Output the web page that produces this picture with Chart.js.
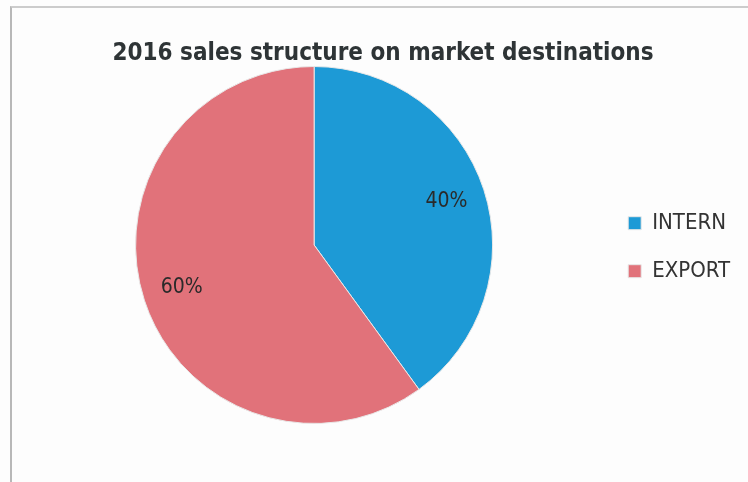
<!DOCTYPE html>
<html>
<head>
<meta charset="utf-8">
<script src="https://cdn.jsdelivr.net/npm/chart.js@4/dist/chart.umd.min.js"></script>
<style>
  html, body { margin: 0; padding: 0; background: #fdfdfd; overflow: hidden; }
  .frame { position: absolute; left: 10px; top: 6px; width: 738px; height: 476px;
           border-left: 2px solid #b8b8b8; border-top: 2px solid #cccccc; }
  .wrap { position: absolute; left: 0; top: 0; width: 748px; height: 482px; }
</style>
</head>
<body>
<div class="frame"></div>
<div class="wrap"><canvas id="myChart"></canvas></div>
<script>
const titleText = '2016 sales structure on market destinations';
const destinations = ['INTERN', 'EXPORT'];
const shares = [40, 60];
const sliceColors = ['#1d9ad6', '#e1727a'];

const fontFam = '"Liberation Sans Narrow", "DejaVu Sans Condensed", sans-serif';

// draws "40%" / "60%" inside the slices
const pctLabels = {
  id: 'pctLabels',
  afterDatasetsDraw(chart) {
    const ctx = chart.ctx;
    const meta = chart.getDatasetMeta(0);
    ctx.save();
    ctx.font = '21px ' + fontFam;
    ctx.fillStyle = '#2a2a2a';
    ctx.textAlign = 'center';
    ctx.textBaseline = 'middle';
    meta.data.forEach((arc, i) => {
      const p = arc.getProps(['x', 'y', 'startAngle', 'endAngle', 'outerRadius'], true);
      const mid = (p.startAngle + p.endAngle) / 2;
      const r = p.outerRadius * 0.78;
      ctx.fillText(shares[i] + '%', p.x + Math.cos(mid) * r, p.y + Math.sin(mid) * r);
    });
    ctx.restore();
  }
};

const ctx = document.getElementById('myChart').getContext('2d');
const myChart = new Chart(ctx, {
  type: 'pie',
  data: {
    labels: destinations,
    datasets: [{
      data: shares,
      backgroundColor: sliceColors,
      borderColor: '#e8e8e8',
      borderWidth: 1
    }]
  },
  options: {
    responsive: true,
    maintainAspectRatio: false,
    animation: false,
    layout: { padding: { left: 26, right: 8, top: 0, bottom: 58 } },
    plugins: {
      tooltip: { enabled: false },
      title: {
        display: true,
        text: titleText,
        color: '#2e3436',
        font: { family: fontFam, size: 24, weight: 'bold', lineHeight: 1 },
        padding: { top: 42, bottom: 0 }
      },
      legend: {
        position: 'right',
        title: { display: true, text: ' ', font: { size: 12 }, padding: { top: 28, bottom: 28 } },
        labels: {
          color: '#333',
          font: { family: fontFam, size: 22 },
          boxWidth: 13,
          boxHeight: 13,
          padding: 26
        }
      }
    }
  },
  plugins: [pctLabels]
});
</script>
</body>
</html>
